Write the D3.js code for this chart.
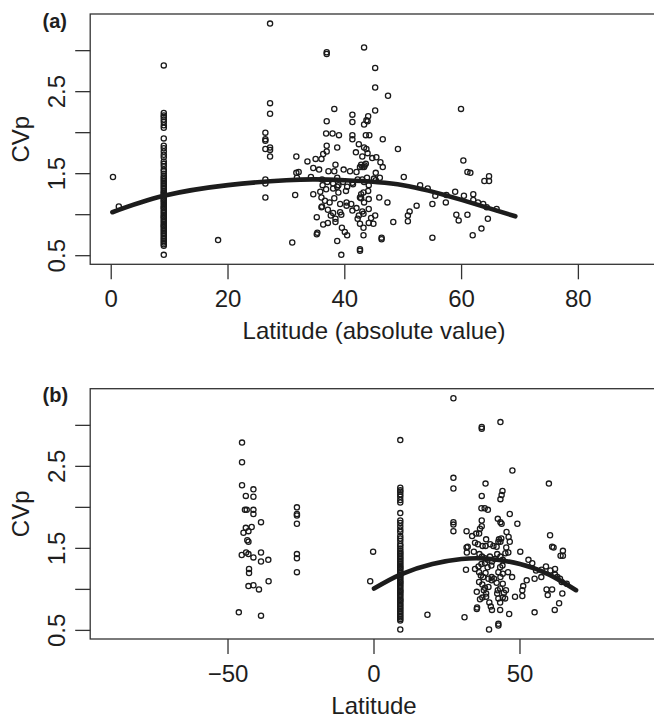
<!DOCTYPE html>
<html lang="en">
<head>
<meta charset="UTF-8">
<title>CVp vs latitude</title>
<script src="https://cdn.jsdelivr.net/npm/d3@7"></script>
<style>
  body { margin: 0; background: #fff; }
  text { font-family: "Liberation Sans", Arial, sans-serif; fill: #1e1e1e; }
</style>
</head>
<body>
<svg id="chart" width="654" height="718"></svg>
<script>
// points north of the equator, [latitude, CVp] (column at 9 kept apart below)
const northPts = [
  [27.2,3.33],[36.9,2.98],[36.9,2.96],[43.3,3.04],[47.4,2.45],[59.9,2.29],[27.2,2.36],[27.2,2.23],
  [38.2,2.29],[44.0,2.20],[43.7,2.15],[43.3,2.10],[36.9,2.14],[36.8,1.99],[37.9,1.99],[39.0,1.97],
  [46.5,1.92],[42.4,1.86],[43.3,1.82],[43.7,1.80],[49.1,1.80],[36.9,1.84],[36.9,1.77],[27.2,1.82],
  [27.2,1.79],[27.2,1.71],[31.7,1.71],[36.0,1.68],[36.3,1.74],[45.4,1.70],[46.1,1.64],[46.5,1.58],
  [42.8,1.61],[43.3,1.58],[43.6,1.62],[60.3,1.66],[61.0,1.52],[61.5,1.51],[64.7,1.47],[64.7,1.41],
  [63.9,1.41],[50.1,1.46],[31.7,1.51],[31.8,1.45],[34.2,1.46],
  [18.3,0.69],[31.0,0.66],[31.5,1.24],[35.2,0.76],[35.3,0.78],[39.4,0.51],[42.6,0.58],[42.6,0.56],
  [40.4,0.75],[43.2,0.75],[46.3,0.70],[55.0,0.72],[61.9,0.75],[63.4,0.83],[64.5,0.95],[59.1,1.00],
  [59.5,0.93],[61.0,1.00],[66.0,1.07],[50.8,0.99],[50.8,0.92],[51.1,1.04],[52.3,1.11],[48.3,0.91],
  [55.0,1.13],[57.3,1.15],[58.9,1.28],[60.4,1.23],[62.0,1.25],[62.0,1.18],[62.8,1.15],[63.7,1.13],
  [64.3,1.09],[52.9,1.36],[54.2,1.32],[55.5,1.23],[57.4,1.24],[47.3,1.15],[45.9,1.21],[44.9,0.89],
  [45.2,0.99],
  [33.6,1.65],[35.0,1.68],[38.4,1.61],[32.1,1.52],[34.6,1.57],[35.6,1.55],[37.2,1.53],[38.2,1.53],
  [39.8,1.55],[40.9,1.53],[42.0,1.52],[42.6,1.58],[45.3,1.51],[46.0,1.45],
  [36.1,1.43],[37.0,1.40],[38.0,1.38],[38.9,1.36],[39.7,1.40],[40.4,1.34],[41.4,1.37],[42.2,1.43],
  [43.3,1.40],[44.1,1.36],[45.0,1.44],[34.6,1.25],[35.8,1.28],[36.8,1.31],[38.0,1.32],[38.9,1.27],
  [40.2,1.29],[43.2,1.27],[44.0,1.29],
  [36.0,1.21],[36.6,1.17],[37.4,1.15],[38.2,1.20],[39.2,1.13],[40.3,1.15],[41.1,1.13],[42.6,1.21],
  [43.3,1.15],[44.1,1.19],
  [36.0,1.09],[37.1,1.06],[38.0,1.02],[39.2,1.03],[40.3,1.11],[42.0,1.08],[42.4,0.99],[43.2,1.01],
  [44.1,1.07],[44.5,0.96],[35.2,0.97],[37.6,0.99],[38.4,0.95],
  [36.3,0.88],[37.1,0.90],[38.4,0.91],[39.5,0.84],[40.0,0.79],[42.2,0.95],[42.6,0.89],[44.1,0.90],
  [43.2,0.84]
];

// the site column at 9 degrees north, CVp values
const col9Lat = 9;
const col9Cvp = [
  2.82, 2.24, 2.21, 2.19, 2.16, 2.13, 2.09, 2.06, 1.93, 1.84, 1.81, 1.77, 1.73, 1.70, 1.65, 1.62,
  1.59, 1.55, 1.53, 1.50, 1.47, 1.45, 1.43, 1.41, 1.39, 1.37, 1.35, 1.33, 1.31, 1.29, 1.27, 1.26,
  1.24, 1.22, 1.20, 1.18, 1.17, 1.15, 1.13, 1.11, 1.09, 1.08, 1.06, 1.04, 1.02, 1.00, 0.98, 0.97,
  0.95, 0.93, 0.91, 0.89, 0.87, 0.86, 0.84, 0.82, 0.80, 0.78, 0.76, 0.74, 0.72, 0.70, 0.68, 0.66,
  0.64, 0.62, 0.51
];

// southern hemisphere points, [latitude, CVp]
const southPts = [
  [-0.3,1.46],[-1.3,1.10],
  [-45.2,2.79],[-45.2,2.55],[-45.2,2.27],[-41.3,2.22],[-43.9,2.14],[-41.3,2.13],[-44.2,1.97],
  [-43.6,1.97],[-41.3,1.97],[-41.3,1.92],[-38.7,1.82],[-43.9,1.75],[-41.9,1.76],[-44.7,1.69],
  [-43.0,1.71],[-43.4,1.60],[-43.0,1.58],[-45.3,1.42],[-43.8,1.45],[-43.0,1.43],[-41.3,1.39],
  [-38.7,1.45],[-38.7,1.34],[-36.2,1.36],[-42.8,1.25],[-42.8,1.20],[-36.1,1.10],[-43.0,1.04],
  [-41.3,1.05],[-39.4,1.00],[-46.3,0.72],[-38.7,0.68],
  [-26.4,2.00],[-26.4,1.92],[-26.4,1.90],[-26.4,1.80],[-26.4,1.43],[-26.4,1.38],[-26.4,1.21]
];

// fitted curves
const fitAbs = [[0.2,1.03],[9,1.23],[20,1.36],[30,1.42],[35,1.43],[40,1.42],[50,1.36],[60,1.18],[69.2,0.98]];
const fitSigned = [[0,1.01],[9,1.18],[20,1.31],[30,1.37],[35,1.38],[40,1.37],[50,1.31],[60,1.18],[69.2,0.99]];

// axes
const cvpTicks = [0.5, 1.0, 1.5, 2.0, 2.5, 3.0];
const cvpLabels = ["0.5", "", "1.5", "", "2.5", ""];
const absLatTicks = [0, 20, 40, 60, 80];
const latTicks = [-50, 0, 50];

const allPts = northPts.concat(col9Cvp.map(v => [col9Lat, v]), southPts);

const svg = d3.select("#chart");
const left = 90.2, right = 657.8;

function drawPanel(opt) {
  const x = d3.scaleLinear().domain(opt.xDomain).range([left, right]);
  const y = d3.scaleLinear().domain([0.395, 3.447]).range([opt.bottom, opt.top]);
  const g = svg.append("g");

  // points
  g.selectAll("circle")
    .data(opt.points)
    .enter().append("circle")
    .attr("cx", d => x(d[0]))
    .attr("cy", d => y(d[1]))
    .attr("r", 2.6)
    .attr("fill", "none")
    .attr("stroke", "#1a1a1a")
    .attr("stroke-width", 1.3);

  // fitted line
  const line = d3.line().x(d => x(d[0])).y(d => y(d[1])).curve(d3.curveNatural);
  g.append("path")
    .attr("d", line(opt.fit))
    .attr("fill", "none")
    .attr("stroke", "#1c1c1c")
    .attr("stroke-width", 4.6)
    .attr("stroke-linecap", "round");

  // box
  g.append("rect")
    .attr("x", left).attr("y", opt.top)
    .attr("width", right - left).attr("height", opt.bottom - opt.top)
    .attr("fill", "none").attr("stroke", "#333").attr("stroke-width", 1.3);

  // y axis
  g.selectAll(".ytick")
    .data(cvpTicks)
    .enter().append("line")
    .attr("x1", left - 15).attr("x2", left)
    .attr("y1", d => y(d)).attr("y2", d => y(d))
    .attr("stroke", "#333").attr("stroke-width", 1.3);
  g.selectAll(".ylab")
    .data(cvpTicks)
    .enter().append("text")
    .attr("transform", d => `translate(${left - 25.3},${y(d)}) rotate(-90)`)
    .attr("text-anchor", "middle")
    .style("font-size", "24px")
    .text((d, i) => cvpLabels[i]);

  // x axis
  g.selectAll(".xtick")
    .data(opt.xTicks)
    .enter().append("line")
    .attr("x1", d => x(d)).attr("x2", d => x(d))
    .attr("y1", opt.bottom).attr("y2", opt.bottom + 15)
    .attr("stroke", "#333").attr("stroke-width", 1.3);
  g.selectAll(".xlab")
    .data(opt.xTicks)
    .enter().append("text")
    .attr("x", d => x(d))
    .attr("y", opt.bottom + 42.5)
    .attr("text-anchor", "middle")
    .style("font-size", "24px")
    .text(d => d < 0 ? "\u2212" + Math.abs(d) : d);

  // titles
  g.append("text")
    .attr("x", (left + right) / 2)
    .attr("y", opt.bottom + 74.5)
    .attr("text-anchor", "middle")
    .style("font-size", "24px")
    .text(opt.xTitle);
  g.append("text")
    .attr("transform", `translate(29,${(opt.top + opt.bottom) / 2}) rotate(-90)`)
    .attr("text-anchor", "middle")
    .style("font-size", "24px")
    .text("CVp");
  g.append("text")
    .attr("x", 42.5)
    .attr("y", opt.top + 13.5)
    .style("font-size", "20px")
    .style("font-weight", "bold")
    .text(opt.tag);
}

drawPanel({
  top: 14, bottom: 264.3,
  xDomain: [-3.6, 93.6],
  xTicks: absLatTicks,
  points: allPts.map(d => [Math.abs(d[0]), d[1]]),
  fit: fitAbs,
  xTitle: "Latitude (absolute value)",
  tag: "(a)"
});

drawPanel({
  top: 388.7, bottom: 639,
  xDomain: [-97.2, 97.2],
  xTicks: latTicks,
  points: allPts,
  fit: fitSigned,
  xTitle: "Latitude",
  tag: "(b)"
});
</script>
</body>
</html>
